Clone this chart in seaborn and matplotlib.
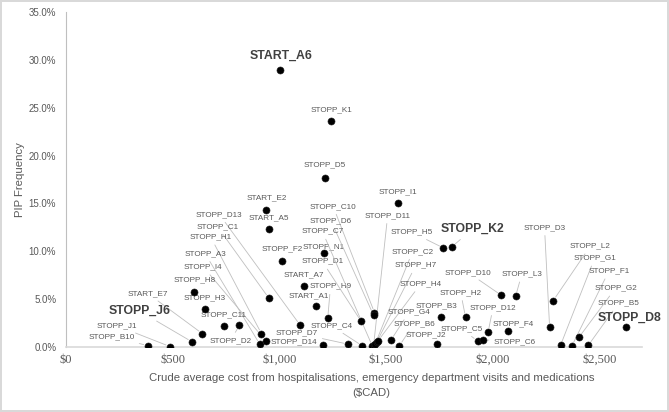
import matplotlib
matplotlib.use("Agg")
import matplotlib.pyplot as plt
import numpy as np
import pandas as pd
import seaborn as sns

# criterios STOPP/START: coste medio bruto ($CAD) y frecuencia PIP (%)
criterios = ["START_A6", "STOPP_K1", "STOPP_D5", "START_E2", "START_A5", "STOPP_F2",
             "STOPP_N1", "STOPP_I1", "START_A7", "START_A1", "STOPP_H9", "STOPP_D13",
             "STOPP_C1", "STOPP_H1", "STOPP_A3", "STOPP_I4", "STOPP_C11", "STOPP_D2",
             "STOPP_H8", "STOPP_H3", "START_E7", "STOPP_J6", "STOPP_J1", "STOPP_B10",
             "STOPP_D7", "STOPP_D14", "STOPP_C4", "STOPP_D1", "STOPP_C10", "STOPP_D6",
             "STOPP_C7", "STOPP_D11", "STOPP_C2", "STOPP_H7", "STOPP_H4", "STOPP_G4",
             "STOPP_B6", "STOPP_J2", "STOPP_B3", "STOPP_H2", "STOPP_H5", "STOPP_K2",
             "STOPP_D10", "STOPP_L3", "STOPP_D12", "STOPP_F4", "STOPP_C5", "STOPP_C6",
             "STOPP_D3", "STOPP_L2", "STOPP_G1", "STOPP_F1", "STOPP_G2", "STOPP_B5",
             "STOPP_D8"]
coste = [1004, 1241, 1214, 939, 951, 1012,
         1210, 1555, 1114, 1173, 1227, 1097,
         951, 916, 908, 936, 740, 813,
         600, 652, 639, 590, 487, 383,
         1321, 1207, 1389, 1383, 1446, 1442,
         1436, 1442, 1450, 1456, 1463, 1524,
         1563, 1741, 1760, 1873, 1769, 1808,
         2041, 2108, 1979, 2072, 1929, 1954,
         2267, 2284, 2318, 2371, 2404, 2449,
         2626]
frecuencia = [28.9, 23.6, 17.7, 14.3, 12.3, 9.0,
              9.8, 15.0, 6.4, 4.3, 3.05, 2.3,
              5.1, 1.4, 0.3, 0.65, 2.2, 2.25,
              5.7, 3.95, 1.4, 0.55, 0.05, 0.15,
              0.3, 0.2, 0.12, 2.7, 3.6, 3.3,
              0.1, 0.2, 0.35, 0.5, 0.65, 0.75,
              0.14, 0.35, 3.15, 3.1, 10.35, 10.45,
              5.4, 5.35, 1.6, 1.65, 0.63, 0.76,
              2.05, 4.85, 0.17, 0.1, 1.0, 0.2,
              2.05]
destacados = ["START_A6", "STOPP_J6", "STOPP_K2", "STOPP_D8"]

df = pd.DataFrame({"criterio": criterios, "coste": coste, "frecuencia": frecuencia})

# posicion de cada etiqueta (coordenadas de datos), como en el grafico original
pos_etiqueta = {
    "START_A6": (1007, 30.4), "STOPP_K1": (1242, 24.8), "STOPP_D5": (1214, 19.0),
    "START_E2": (939, 15.6), "STOPP_D13": (719, 13.85), "START_A5": (951, 13.5),
    "STOPP_C1": (709, 12.6), "STOPP_H1": (678, 11.5), "STOPP_F2": (1012, 10.3),
    "STOPP_N1": (1210, 10.5), "STOPP_I1": (1555, 16.25), "STOPP_C10": (1252, 14.7),
    "STOPP_D11": (1508, 13.75), "STOPP_D6": (1242, 13.2), "STOPP_C7": (1201, 12.1),
    "STOPP_D1": (1201, 8.96), "START_A7": (1114, 7.57), "STOPP_H9": (1240, 6.35),
    "START_A1": (1136, 5.34), "STOPP_C4": (1244, 2.22), "STOPP_D7": (1081, 1.46),
    "STOPP_D14": (1066, 0.55), "STOPP_D2": (771, 0.7), "STOPP_C11": (740, 3.4),
    "STOPP_A3": (652, 9.76), "STOPP_I4": (644, 8.36), "STOPP_H8": (601, 6.98),
    "START_E7": (383, 5.6), "STOPP_H3": (652, 5.14), "STOPP_J6": (345, 3.75),
    "STOPP_J1": (239, 2.22), "STOPP_B10": (213, 1.07), "STOPP_H5": (1620, 12.0),
    "STOPP_C2": (1625, 10.0), "STOPP_H7": (1640, 8.54), "STOPP_H4": (1663, 6.6),
    "STOPP_G4": (1609, 3.68), "STOPP_B3": (1738, 4.3), "STOPP_B6": (1633, 2.47),
    "STOPP_J2": (1687, 1.25), "STOPP_K2": (1904, 12.3), "STOPP_D10": (1884, 7.8),
    "STOPP_L3": (2137, 7.64), "STOPP_H2": (1850, 5.7), "STOPP_D12": (2002, 4.14),
    "STOPP_F4": (2098, 2.47), "STOPP_C5": (1854, 1.9), "STOPP_C6": (2103, 0.55),
    "STOPP_D3": (2243, 12.5), "STOPP_L2": (2458, 10.55), "STOPP_G1": (2478, 9.3),
    "STOPP_F1": (2545, 7.95), "STOPP_G2": (2576, 6.15), "STOPP_B5": (2590, 4.58),
    "STOPP_D8": (2641, 3.1),
}

sns.set_style("white")
plt.rcParams["font.family"] = ["Liberation Sans", "DejaVu Sans"]

fig = plt.figure(figsize=(6.69, 4.12), dpi=100)
fig.patch.set_edgecolor("#d9d9d9")
fig.patch.set_linewidth(1.5)
ax = fig.add_axes([66 / 669, 65 / 412, 576 / 669, 335 / 412])

sns.scatterplot(data=df, x="coste", y="frecuencia", ax=ax, color="black",
                s=26, edgecolor="#222222", linewidth=0.4, zorder=3, legend=False)

fuente_etq = ["Liberation Sans Narrow", "Liberation Sans", "DejaVu Sans"]
for nombre, cx, cy in zip(df["criterio"], df["coste"], df["frecuencia"]):
    tx, ty = pos_etiqueta[nombre]
    # distancia en pixeles aprox. para decidir si va linea guia
    d = np.hypot((tx - cx) * 0.2148, (ty - cy) * 9.6)
    negrita = nombre in destacados
    props = None
    if d > 16:
        props = dict(arrowstyle="-", color="#bfbfbf", lw=0.6, shrinkA=1, shrinkB=3)
    ax.annotate(nombre, xy=(cx, cy), xytext=(tx, ty), textcoords="data",
                ha="center", va="center",
                fontsize=8.8 if negrita else 5.9,
                fontweight="bold" if negrita else "normal",
                color="#404040" if negrita else "#595959",
                family=fuente_etq, arrowprops=props, zorder=2)

ax.set_xlim(0, 2700)
ax.set_ylim(0, 35)
ax.set_xticks(np.arange(0, 2501, 500))
ax.set_xticklabels([f"${v:,.0f}" for v in np.arange(0, 2501, 500)],
                   family=["Liberation Serif", "DejaVu Serif"], fontsize=9, color="#595959")
ax.set_yticks(np.arange(0, 35.1, 5))
ax.set_yticklabels([f"{v:.1f}%" for v in np.arange(0, 35.1, 5)], fontsize=7, color="#595959")
ax.tick_params(axis="both", length=0)
ax.tick_params(axis="y", pad=7)
ax.tick_params(axis="x", pad=5)

for lado in ["top", "right"]:
    ax.spines[lado].set_visible(False)
ax.spines["left"].set_color("#bfbfbf")
ax.spines["bottom"].set_color("#d9d9d9")
ax.spines["left"].set_linewidth(0.8)
ax.spines["bottom"].set_linewidth(1.2)

ax.set_xlabel("Crude average cost from hospitalisations, emergency department visits and medications\n($CAD)",
              fontsize=8.2, color="#595959", linespacing=1.55)
ax.xaxis.set_label_coords(0.53, -0.078)
ax.set_ylabel("PIP Frequency", fontsize=8.2, color="#595959")
ax.yaxis.set_label_coords(-0.072, 0.5)

plt.savefig("out.png", dpi=100)
print("✅ Gráfica guardada como 'out.png'")
